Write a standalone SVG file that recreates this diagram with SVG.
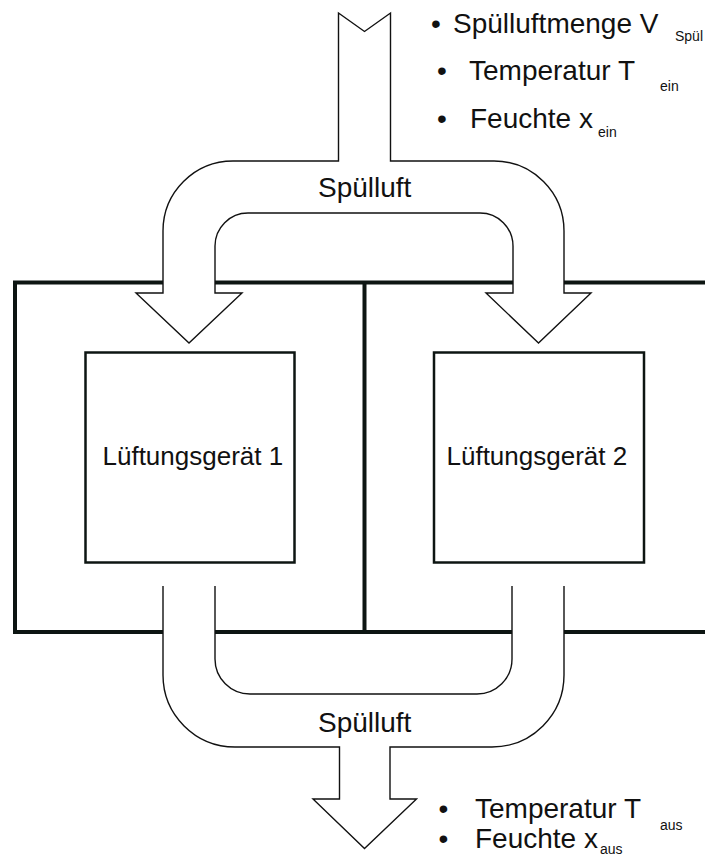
<svg xmlns="http://www.w3.org/2000/svg" width="705" height="857" viewBox="0 0 705 857">
  <style>
    .frame { fill: none; stroke: #0d1512; stroke-width: 4; }
    .unit { fill: #ffffff; stroke: #0d1512; stroke-width: 2.5; }
    .duct { fill: #ffffff; stroke: #111111; stroke-width: 1.4; stroke-linejoin: miter; }
    .duct-line { fill: none; stroke: #111111; stroke-width: 1.4; }
    .duct-fill { fill: #ffffff; stroke: none; }
    text { font-family: "Liberation Sans", Arial, sans-serif; fill: #111111; }
    .lbl { font-size: 28px; }
    .unit-lbl { font-size: 26px; }
    .sub { font-size: 14px; }
  </style>

  <!-- building frame with two rooms -->
  <g id="frame">
    <polyline class="frame" points="705,282.5 15,282.5 15,632 705,632"/>
    <line class="frame" x1="364.5" y1="282.5" x2="364.5" y2="632"/>
  </g>

  <!-- ventilation units -->
  <g id="unit1">
    <rect class="unit" x="85.5" y="352.5" width="209" height="210"/>
    <text class="unit-lbl" x="102.5" y="465">Lüftungsgerät 1</text>
  </g>
  <g id="unit2">
    <rect class="unit" x="434" y="352.5" width="210" height="210"/>
    <text class="unit-lbl" x="446.5" y="465">Lüftungsgerät 2</text>
  </g>

  <g id="connectors">
    <!-- incoming purge air, split to both units -->
    <path id="supply" class="duct" d="M 338.5,13 L 364.5,31.5 L 390.5,13 L 390.5,161 L 494,161 A 70,70 0 0 1 564,231 L 564,293 L 591,293 L 538.5,343 L 486,293 L 513,293 L 513,246 A 33,33 0 0 0 480,213 L 248,213 A 33,33 0 0 0 215,246 L 215,293 L 242,293 L 189,343 L 136,293 L 163,293 L 163,231 A 70,70 0 0 1 233,161 L 338.5,161 Z"/>

    <!-- outgoing purge air, merged from both units -->
    <g id="exhaust">
      <path class="duct-fill" d="M 163,586 L 163,675 A 72,72 0 0 0 235,747 L 339.5,747 L 339.5,799 L 313,799 L 364.5,848.5 L 416.5,799 L 390,799 L 390,747 L 492,747 A 72,72 0 0 0 564,675 L 564,586 L 512,586 L 512,659 A 35,35 0 0 1 477,694 L 250,694 A 35,35 0 0 1 215,659 L 215,586 Z"/>
      <path class="duct-line" d="M 163,586 L 163,675 A 72,72 0 0 0 235,747 L 339.5,747 L 339.5,799 L 313,799 L 364.5,848.5 L 416.5,799 L 390,799 L 390,747 L 492,747 A 72,72 0 0 0 564,675 L 564,586"/>
      <path class="duct-line" d="M 215,586 L 215,659 A 35,35 0 0 0 250,694 L 477,694 A 35,35 0 0 0 512,659 L 512,586"/>
    </g>
  </g>

  <!-- duct labels -->
  <g id="label-supply">
    <text class="lbl" x="318" y="197">Spülluft</text>
  </g>
  <g id="label-exhaust">
    <text class="lbl" x="318" y="732">Spülluft</text>
  </g>

  <!-- inlet parameters -->
  <g id="inlet-params">
    <text class="lbl" x="431" y="33">•</text>
    <text class="lbl" x="453" y="33">Spülluftmenge V</text>
    <text class="sub" x="675" y="41">Spül</text>
    <text class="lbl" x="437" y="80">•</text>
    <text class="lbl" x="469" y="80">Temperatur T</text>
    <text class="sub" x="660" y="91">ein</text>
    <text class="lbl" x="437" y="128">•</text>
    <text class="lbl" x="470" y="128">Feuchte x</text>
    <text class="sub" x="598" y="137">ein</text>
  </g>

  <!-- outlet parameters -->
  <g id="outlet-params">
    <text class="lbl" x="438.5" y="818">•</text>
    <text class="lbl" x="475" y="818">Temperatur T</text>
    <text class="sub" x="660" y="830">aus</text>
    <text class="lbl" x="438.5" y="848">•</text>
    <text class="lbl" x="475" y="848">Feuchte x</text>
    <text class="sub" x="600" y="854">aus</text>
  </g>
</svg>
